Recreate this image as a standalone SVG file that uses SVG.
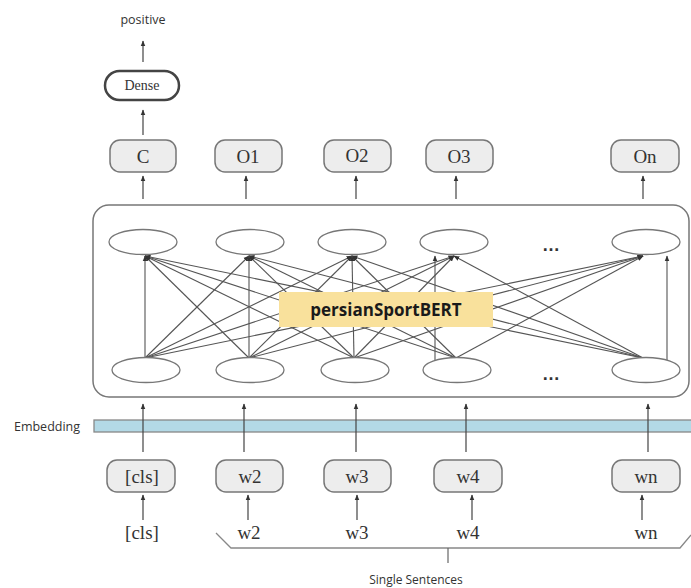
<svg xmlns="http://www.w3.org/2000/svg" width="691" height="588" viewBox="0 0 691 588">
  <style>
    .serif { font-family: "Liberation Serif", "DejaVu Serif", serif; fill: #333; }
    .sans { font-family: "Open Sans", "Liberation Sans", sans-serif; fill: #333; }
    .box { fill: #ededed; stroke: #777; stroke-width: 1.5; }
    .node { fill: #fff; stroke: #777; stroke-width: 1.3; }
    .arrow { stroke: #444; stroke-width: 1.2; fill: none; marker-end: url(#ah); }
    .mesh line { stroke: #555; stroke-width: 1.1; }
    .up { marker-end: url(#ah); }
  </style>
  <defs>
    <marker id="ah" viewBox="0 0 10 10" refX="9" refY="5" markerWidth="6" markerHeight="6" markerUnits="userSpaceOnUse" orient="auto">
      <path d="M0,1 L10,5 L0,9 Z" fill="#333"/>
    </marker>
  </defs>
  <rect width="691" height="588" fill="#fff"/>

  <!-- classification head -->
  <g id="output-label">
    <text class="sans" x="143" y="24" font-size="12.5" text-anchor="middle">positive</text>
  </g>
  <g id="dense">
    <rect x="105" y="71" width="74" height="29" rx="14.5" fill="#fff" stroke="#444" stroke-width="2.5"/>
    <text class="serif" x="142" y="90" font-size="14" text-anchor="middle">Dense</text>
  </g>

  <!-- output tokens -->
  <g id="out-c">
    <rect class="box" x="110" y="140" width="66" height="32" rx="10"/>
    <text class="serif" x="143" y="163" font-size="19" text-anchor="middle">C</text>
  </g>
  <g id="out-o1">
    <rect class="box" x="215" y="140" width="67" height="32" rx="10"/>
    <text class="serif" x="248" y="163" font-size="19" text-anchor="middle">O1</text>
  </g>
  <g id="out-o2">
    <rect class="box" x="324" y="140" width="67" height="32" rx="10"/>
    <text class="serif" x="357" y="162" font-size="19" text-anchor="middle">O2</text>
  </g>
  <g id="out-o3">
    <rect class="box" x="426" y="140" width="67" height="32" rx="10"/>
    <text class="serif" x="459" y="163" font-size="19" text-anchor="middle">O3</text>
  </g>
  <g id="out-on">
    <rect class="box" x="611" y="140" width="68" height="32" rx="10"/>
    <text class="serif" x="645" y="163" font-size="19" text-anchor="middle">On</text>
  </g>

  <!-- encoder block -->
  <g id="encoder">
    <rect x="93" y="205" width="596" height="192" rx="16" fill="#fff" stroke="#777" stroke-width="1.5"/>
  </g>

  <!-- fully connected attention mesh -->
  <g id="connectors" class="mesh">
    <!-- bottom node 1 -->
    <line x1="145" y1="358" x2="145" y2="256" class="up"/>
    <line x1="145" y1="358" x2="249" y2="256" class="up"/>
    <line x1="145" y1="358" x2="352" y2="256" class="up"/>
    <line x1="145" y1="358" x2="454" y2="256" class="up"/>
    <line x1="145" y1="358" x2="643" y2="256" class="up"/>
    <!-- bottom node 2 -->
    <line x1="249" y1="358" x2="145" y2="256" class="up"/>
    <line x1="249" y1="358" x2="249" y2="256" class="up"/>
    <line x1="249" y1="358" x2="352" y2="256" class="up"/>
    <line x1="249" y1="358" x2="454" y2="256" class="up"/>
    <line x1="249" y1="358" x2="643" y2="256" class="up"/>
    <!-- bottom node 3 -->
    <line x1="354" y1="358" x2="145" y2="256" class="up"/>
    <line x1="354" y1="358" x2="249" y2="256" class="up"/>
    <line x1="354" y1="358" x2="352" y2="256" class="up"/>
    <line x1="354" y1="358" x2="454" y2="256" class="up"/>
    <line x1="354" y1="358" x2="643" y2="256" class="up"/>
    <!-- bottom node 4 -->
    <line x1="456" y1="358" x2="145" y2="256" class="up"/>
    <line x1="456" y1="358" x2="249" y2="256" class="up"/>
    <line x1="456" y1="358" x2="352" y2="256" class="up"/>
    <line x1="435" y1="360" x2="435" y2="256" class="up"/>
    <line x1="456" y1="358" x2="643" y2="256" class="up"/>
    <!-- bottom node n -->
    <line x1="643" y1="358" x2="145" y2="256" class="up"/>
    <line x1="643" y1="358" x2="249" y2="256" class="up"/>
    <line x1="643" y1="358" x2="352" y2="256" class="up"/>
    <line x1="643" y1="358" x2="454" y2="256" class="up"/>
    <line x1="667" y1="360" x2="667" y2="256" class="up"/>
  </g>

  <!-- transformer units -->
  <g id="top-1"><ellipse class="node" cx="143" cy="242" rx="34" ry="12.5"/></g>
  <g id="top-2"><ellipse class="node" cx="250" cy="242" rx="34" ry="12.5"/></g>
  <g id="top-3"><ellipse class="node" cx="352" cy="242" rx="34" ry="12.5"/></g>
  <g id="top-4"><ellipse class="node" cx="454" cy="242" rx="34" ry="12.5"/></g>
  <g id="top-n"><ellipse class="node" cx="646" cy="242" rx="34" ry="12.5"/></g>
  <g id="bottom-1"><ellipse class="node" cx="146" cy="370" rx="34" ry="12.5"/></g>
  <g id="bottom-2"><ellipse class="node" cx="250" cy="370" rx="34" ry="12.5"/></g>
  <g id="bottom-3"><ellipse class="node" cx="355" cy="370" rx="34" ry="12.5"/></g>
  <g id="bottom-4"><ellipse class="node" cx="457" cy="370" rx="34" ry="12.5"/></g>
  <g id="bottom-n"><ellipse class="node" cx="646" cy="370" rx="34" ry="12.5"/></g>
  <g id="dots">
    <text x="551" y="251" font-family="Liberation Sans, sans-serif" font-size="18" font-weight="bold" fill="#333" text-anchor="middle">…</text>
    <text x="551" y="380" font-family="Liberation Sans, sans-serif" font-size="18" font-weight="bold" fill="#333" text-anchor="middle">…</text>
  </g>

  <!-- model name -->
  <g id="model-label">
    <rect x="279" y="292" width="214" height="35" fill="#f9e19c"/>
    <text x="386" y="316" font-family="Open Sans, Liberation Sans, sans-serif" font-size="17" font-weight="bold" fill="#1a1a1a" text-anchor="middle">persianSportBERT</text>
  </g>

  <!-- embedding layer -->
  <g id="embedding">
    <rect x="94" y="420" width="600" height="12" fill="#b3d9e6" stroke="#888" stroke-width="1.3"/>
    <text class="sans" x="47" y="431" font-size="12.5" text-anchor="middle">Embedding</text>
  </g>

  <!-- vertical flow arrows -->
  <g id="flow-arrows">
    <line class="arrow" x1="143" y1="62" x2="143" y2="41"/>
    <line class="arrow" x1="143" y1="135" x2="143" y2="110"/>
    <line class="arrow" x1="143" y1="199" x2="143" y2="176"/>
    <line class="arrow" x1="246" y1="199" x2="246" y2="176"/>
    <line class="arrow" x1="356" y1="199" x2="356" y2="176"/>
    <line class="arrow" x1="456" y1="199" x2="456" y2="176"/>
    <line class="arrow" x1="643" y1="199" x2="643" y2="176"/>
    <line class="arrow" x1="143" y1="452" x2="143" y2="404"/>
    <line class="arrow" x1="244" y1="452" x2="244" y2="404"/>
    <line class="arrow" x1="356" y1="452" x2="356" y2="404"/>
    <line class="arrow" x1="466" y1="452" x2="466" y2="404"/>
    <line class="arrow" x1="648" y1="452" x2="648" y2="404"/>
    <line class="arrow" x1="143" y1="520" x2="143" y2="495"/>
    <line class="arrow" x1="248" y1="520" x2="248" y2="495"/>
    <line class="arrow" x1="357" y1="520" x2="357" y2="495"/>
    <line class="arrow" x1="472" y1="520" x2="472" y2="495"/>
    <line class="arrow" x1="642" y1="520" x2="642" y2="495"/>
  </g>

  <!-- input token boxes -->
  <g id="in-cls">
    <rect class="box" x="107" y="460" width="68" height="32" rx="10"/>
    <text class="serif" x="142" y="483" font-size="19" text-anchor="middle">[cls]</text>
  </g>
  <g id="in-w2">
    <rect class="box" x="216" y="460" width="67" height="32" rx="10"/>
    <text class="serif" x="250" y="483" font-size="19" text-anchor="middle">w2</text>
  </g>
  <g id="in-w3">
    <rect class="box" x="324" y="460" width="67" height="32" rx="10"/>
    <text class="serif" x="357" y="483" font-size="19" text-anchor="middle">w3</text>
  </g>
  <g id="in-w4">
    <rect class="box" x="434" y="460" width="68" height="32" rx="10"/>
    <text class="serif" x="468" y="483" font-size="19" text-anchor="middle">w4</text>
  </g>
  <g id="in-wn">
    <rect class="box" x="612" y="460" width="68" height="32" rx="10"/>
    <text class="serif" x="646" y="483" font-size="19" text-anchor="middle">wn</text>
  </g>

  <!-- raw tokens -->
  <g id="raw-tokens">
    <text class="serif" x="142" y="539" font-size="19" text-anchor="middle">[cls]</text>
    <text class="serif" x="249" y="539" font-size="19" text-anchor="middle">w2</text>
    <text class="serif" x="357" y="539" font-size="19" text-anchor="middle">w3</text>
    <text class="serif" x="468" y="539" font-size="19" text-anchor="middle">w4</text>
    <text class="serif" x="646" y="539" font-size="19" text-anchor="middle">wn</text>
  </g>

  <!-- sentence brace -->
  <g id="sentence-brace">
    <path d="M216,533 L231,548 L680,548 L691,535" fill="none" stroke="#888" stroke-width="1.3"/>
    <line x1="448" y1="548" x2="448" y2="563" stroke="#666" stroke-width="1.2"/>
    <text class="sans" x="416" y="584" font-size="12" text-anchor="middle">Single Sentences</text>
  </g>
</svg>
